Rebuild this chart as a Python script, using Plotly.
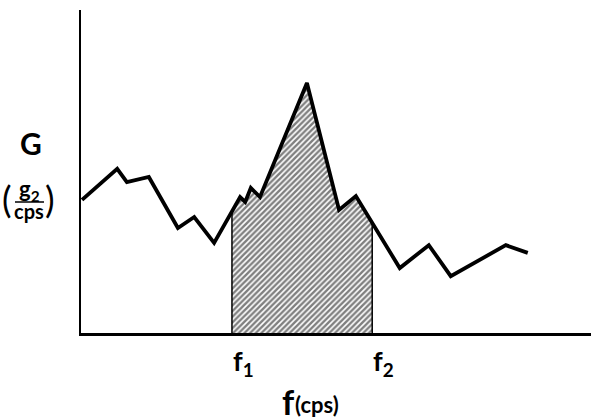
import numpy as np
import plotly.graph_objects as go

# Spectral density curve (arbitrary units)
freq = [0.2, 7.1, 9.0, 13.3, 19.0, 22.2, 26.1, 31.2, 32.2, 33.3, 35.1, 44.3,
        50.6, 53.9, 62.5, 68.2, 72.5, 83.3, 87.6]
G = [41.2, 50.8, 46.7, 48.3, 32.5, 35.9, 27.9, 42.1, 40.6, 44.9, 42.1, 77.4,
     38.1, 42.4, 20.1, 27.2, 17.6, 27.2, 24.8]
f1 = 29.6
f2 = 57.1
band_labels = ["f<sub>1</sub>", "f<sub>2</sub>"]
x_title_main = "f"
x_title_unit = "(cps)"
y_title = "G"

FONT = "Lato"
W = "bold"
# band polygon built from the data
fa = np.array(freq); ga = np.array(G)
inside = (fa > f1) & (fa < f2)
bx = [f1, f1] + list(fa[inside]) + [f2, f2]
by = [0, float(np.interp(f1, fa, ga))] + list(ga[inside]) + [float(np.interp(f2, fa, ga)), 0]

fig = go.Figure()
fig.add_trace(go.Scatter(
    x=bx, y=by, mode="lines", fill="toself",
    fillcolor="white",
    fillpattern=dict(shape="/", fgcolor="black", bgcolor="white", size=4, solidity=0.6),
    line=dict(color="black", width=1.5), hoverinfo="skip", showlegend=False))
fig.add_trace(go.Scatter(
    x=freq, y=G, mode="lines", line=dict(color="black", width=3.8),
    showlegend=False))

fig.update_layout(
    width=591, height=417,
    margin=dict(l=81, r=0, t=10, b=84),
    paper_bgcolor="white", plot_bgcolor="white",
    font=dict(family=FONT, color="black"),
    xaxis=dict(range=[0, 100], showgrid=False, zeroline=False, showticklabels=False,
               ticks="", showline=True, linecolor="black", linewidth=2.5),
    yaxis=dict(range=[0, 100], showgrid=False, zeroline=False, showticklabels=False,
               ticks="", showline=True, linecolor="black", linewidth=2),
)

def px(x):
    return (x - 81) / 510.0

def py(y):
    return (333 - y) / 323.0

def txt(x, y, s, size, weight="normal", xa="center", ya="middle"):
    return dict(x=px(x), y=py(y), xref="paper", yref="paper", text=s, showarrow=False,
                xanchor=xa, yanchor=ya, font=dict(size=size, family=FONT, weight=weight))

ann = []
for f, lab in zip([f1, f2], band_labels):
    ann.append(dict(x=f, y=py(362), xref="x", yref="paper", text=lab, showarrow=False,
                    xanchor="left", yanchor="middle", xshift=-1,
                    font=dict(size=27, family=FONT, weight=W)))
ann.append(txt(297, 401, x_title_main, 34, W, xa="right"))
ann.append(txt(293, 404, x_title_unit, 22, W, xa="left"))
ann.append(txt(31, 143, y_title, 30, W))
# unit fraction (g2 / cps)
ann.append(txt(7, 199, "(", 36))
ann.append(txt(50, 199, ")", 36))
ann.append(txt(29, 190, "g<sub>2</sub>", 22, W))
ann.append(txt(29, 211, "cps", 20, W))
fig.update_layout(annotations=ann)
fig.add_shape(type="line", xref="paper", yref="paper",
              x0=px(15), x1=px(44), y0=py(202), y1=py(202),
              line=dict(color="black", width=1.5))

fig.write_html("out.html")
